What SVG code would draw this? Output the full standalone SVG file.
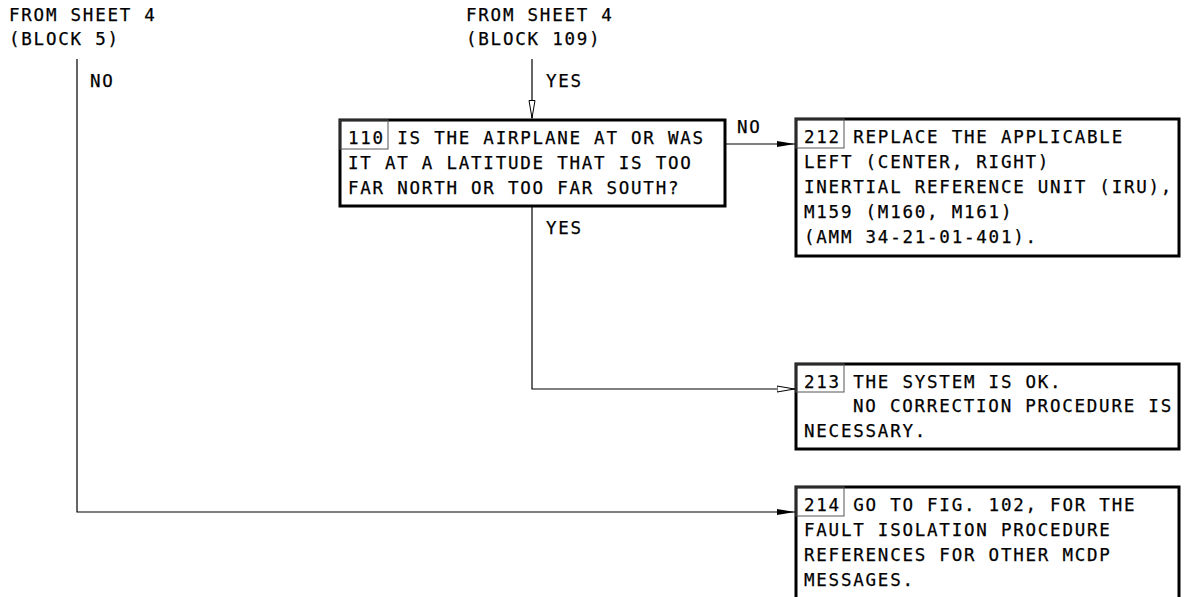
<svg xmlns="http://www.w3.org/2000/svg" width="1184" height="597" viewBox="0 0 1184 597">
<style>
text{font-family:"DejaVu Sans Mono","Liberation Mono",monospace;font-size:17.5px;letter-spacing:1.77px;fill:#000;stroke:#000;stroke-width:0.25}
.box{fill:#fff;stroke:#000;stroke-width:3}
.num{fill:none;stroke:#555;stroke-width:1}
.ln{fill:none;stroke:#000;stroke-width:1.2}
</style>
<defs>
<marker id="af" markerWidth="19" markerHeight="8" refX="18" refY="4" orient="auto" markerUnits="userSpaceOnUse">
<path d="M0,1 L18,4 L0,7 Z" fill="#000"/>
</marker>
<marker id="ah" markerWidth="20" markerHeight="10" refX="18.5" refY="5" orient="auto" markerUnits="userSpaceOnUse">
<path d="M0.5,2 L18,5 L0.5,8 Z" fill="#fff" stroke="#000" stroke-width="1"/>
</marker>
</defs>
<rect width="1184" height="597" fill="#fff"/>
<g id="labels">
<text x="9" y="21">FROM SHEET 4</text>
<text x="9" y="45">(BLOCK 5)</text>
<text x="466" y="21">FROM SHEET 4</text>
<text x="466" y="45">(BLOCK 109)</text>
</g>
<g id="connectors">
<path class="ln" d="M532,59 V118.5" marker-end="url(#ah)"/>
<path class="ln" d="M532,207 V389 H795" marker-end="url(#ah)"/>
<path class="ln" d="M726,144 H795" marker-end="url(#af)"/>
<path class="ln" d="M77,59 V512 H795" marker-end="url(#af)"/>
<text x="90" y="87">NO</text>
<text x="546" y="87">YES</text>
<text x="546" y="234">YES</text>
<text x="737" y="133">NO</text>
</g>
<g id="n110">
<rect class="box" x="340" y="120" width="385" height="86"/>
<rect class="num" x="340" y="120" width="48" height="29"/>
<text x="348" y="144">110 IS THE AIRPLANE AT OR WAS</text>
<text x="348" y="169">IT AT A LATITUDE THAT IS TOO</text>
<text x="348" y="194">FAR NORTH OR TOO FAR SOUTH?</text>
</g>
<g id="n212">
<rect class="box" x="796" y="119" width="383" height="137"/>
<rect class="num" x="796" y="119" width="48" height="29"/>
<text x="804" y="143">212 REPLACE THE APPLICABLE</text>
<text x="804" y="168">LEFT (CENTER, RIGHT)</text>
<text x="804" y="193">INERTIAL REFERENCE UNIT (IRU),</text>
<text x="804" y="218">M159 (M160, M161)</text>
<text x="804" y="243">(AMM 34-21-01-401).</text>
</g>
<g id="n213">
<rect class="box" x="796" y="364" width="383" height="85"/>
<rect class="num" x="796" y="364" width="48" height="28"/>
<text x="804" y="388">213 THE SYSTEM IS OK.</text>
<text x="853" y="412">NO CORRECTION PROCEDURE IS</text>
<text x="804" y="437">NECESSARY.</text>
</g>
<g id="n214">
<rect class="box" x="796" y="487" width="383" height="112"/>
<rect class="num" x="796" y="487" width="48" height="29"/>
<text x="804" y="511">214 GO TO FIG. 102, FOR THE</text>
<text x="804" y="536">FAULT ISOLATION PROCEDURE</text>
<text x="804" y="561">REFERENCES FOR OTHER MCDP</text>
<text x="804" y="586">MESSAGES.</text>
</g>
</svg>
